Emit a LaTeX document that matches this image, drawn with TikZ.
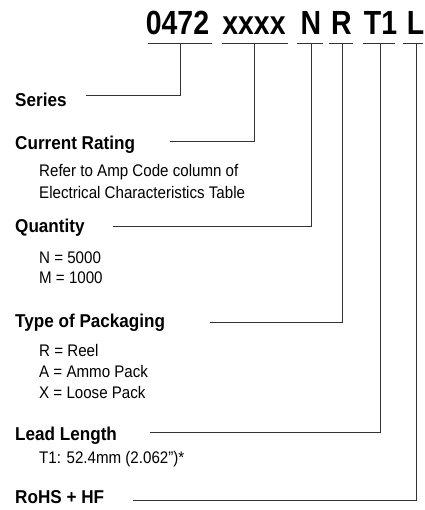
\documentclass[tikz,border=0pt]{standalone}
\usepackage{fontspec}
\newfontfamily\titlef{Liberation Sans Bold}[FakeStretch=0.85]
\newfontfamily\labf{Liberation Sans Bold}[FakeStretch=0.92]
\newfontfamily\bodyf{Liberation Sans}[FakeStretch=0.9]
\begin{document}
\begin{tikzpicture}[x=1pt,y=-1pt,
  ttl/.style={anchor=base,inner sep=0pt,font=\titlef\fontsize{33.5}{36}\selectfont},
  lab/.style={anchor=base west,inner sep=0pt,font=\labf\fontsize{18.6}{20}\selectfont},
  body/.style={anchor=base west,inner sep=0pt,font=\bodyf\fontsize{16.8}{18}\selectfont},
  ln/.style={draw=black!80,line width=1pt}]
\useasboundingbox (0,0) rectangle (424,510);
% title
\node[ttl] (t1) at (177.5,35) {0472};
\node[ttl] (t2) at (254,35) {xxxx};
\node[ttl] (t3) at (311,35) {N};
\node[ttl] (t4) at (341.5,35) {R};
\node[ttl] (t5) at (380.5,35) {T1};
\node[ttl] (t6) at (415.5,35) {L};
% underlines
\draw[ln] (148,44) -- (212,44);
\draw[ln] (222,44) -- (288,44);
\draw[ln] (297,44) -- (323,44);
\draw[ln] (329,44) -- (353,44);
\draw[ln] (363,44) -- (395,44);
\draw[ln] (403,44) -- (423,44);
\coordinate (u1) at (180,44);
\coordinate (u2) at (254,44);
\coordinate (u3) at (311,44);
\coordinate (u4) at (342,44);
\coordinate (u5) at (380,44);
\coordinate (u6) at (416,44);
% labels
\node[lab] (series) at (15,106.5) {Series};
\node[lab] (current) at (15,149.5) {Current Rating};
\node[body] (b1) at (39,177) {Refer to Amp Code column of};
\node[body] (b2) at (39,199) {Electrical Characteristics Table};
\node[lab] (qty) at (15,233) {Quantity};
\node[body] (b3) at (39,263) {N = 5000};
\node[body] (b4) at (39,283) {M = 1000};
\node[lab] (pack) at (15,327.5) {Type of Packaging};
\node[body] (b5) at (39,356) {R = Reel};
\node[body] (b6) at (39,377) {A = Ammo Pack};
\node[body] (b7) at (39,398) {X = Loose Pack};
\node[lab] (lead) at (15,440) {Lead Length};
\node[body] (b8) at (39,463) {T1: 52.4mm (2.062”)*};
\node[lab] (rohs) at (15,503) {RoHS + HF};
% connector starts
\coordinate (c1) at (86,96);
\coordinate (c2) at (170,142);
\coordinate (c3) at (113,227);
\coordinate (c4) at (210,322);
\coordinate (c5) at (150,432);
\coordinate (c6) at (133,500);
\draw[ln] (c1) -| (u1);
\draw[ln] (c2) -| (u2);
\draw[ln] (c3) -| (u3);
\draw[ln] (c4) -| (u4);
\draw[ln] (c5) -| (u5);
\draw[ln] (c6) -| (u6);
\end{tikzpicture}
\end{document}
